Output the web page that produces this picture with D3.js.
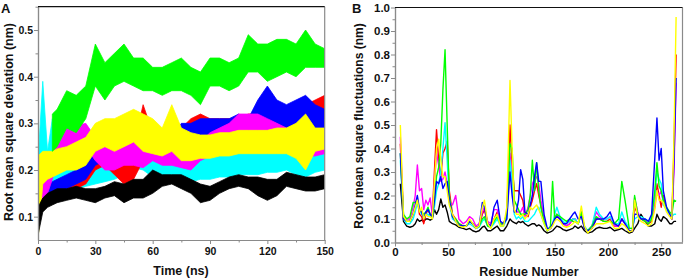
<!DOCTYPE html>
<html>
<head>
<meta charset="utf-8">
<script src="https://cdn.jsdelivr.net/npm/d3@7"></script>
<style>
  body { margin: 0; background: white; }
  svg { display: block; font-family: "Liberation Sans", Arial, sans-serif; }
</style>
</head>
<body>
<svg id="chart" width="685" height="279"></svg>
<script>
// ---- panel A: RMSD bands (low / high edge of each noisy trace) ----
const TIME = [0, 2.5, 5, 7.5, 10, 15, 20, 25, 30, 35, 40, 45, 50, 55, 60, 65, 70, 75, 80, 85, 90, 95, 100, 105, 110, 115, 120, 125, 130, 135, 140, 145, 150];

const cyanLo = [0.12, 0.15, 0.15, 0.155, 0.155, 0.16, 0.16, 0.165, 0.17, 0.175, 0.18, 0.19, 0.205, 0.20, 0.185, 0.175, 0.175, 0.175, 0.175, 0.18, 0.18, 0.185, 0.185, 0.19, 0.19, 0.19, 0.195, 0.195, 0.2, 0.19, 0.185, 0.195, 0.2];
const cyanHi = [0.22, 0.39, 0.24, 0.31, 0.2, 0.2, 0.2, 0.21, 0.215, 0.22, 0.225, 0.25, 0.27, 0.26, 0.24, 0.225, 0.225, 0.225, 0.225, 0.225, 0.23, 0.23, 0.235, 0.24, 0.24, 0.245, 0.245, 0.245, 0.25, 0.25, 0.245, 0.25, 0.255];
const redLo = [0.09, 0.12, 0.13, 0.135, 0.14, 0.15, 0.16, 0.17, 0.20, 0.21, 0.19, 0.17, 0.18, 0.22, 0.23, 0.24, 0.24, 0.25, 0.27, 0.28, 0.28, 0.27, 0.27, 0.27, 0.28, 0.28, 0.29, 0.28, 0.28, 0.29, 0.29, 0.30, 0.31];
const redHi = [0.14, 0.16, 0.165, 0.17, 0.17, 0.18, 0.19, 0.20, 0.26, 0.25, 0.24, 0.22, 0.25, 0.34, 0.28, 0.28, 0.30, 0.29, 0.31, 0.32, 0.31, 0.31, 0.31, 0.31, 0.32, 0.32, 0.33, 0.32, 0.32, 0.33, 0.34, 0.35, 0.36];
const blueLo = [0.10, 0.13, 0.14, 0.145, 0.15, 0.16, 0.17, 0.18, 0.21, 0.22, 0.24, 0.25, 0.25, 0.24, 0.24, 0.23, 0.22, 0.25, 0.26, 0.26, 0.26, 0.26, 0.27, 0.27, 0.27, 0.30, 0.31, 0.30, 0.29, 0.30, 0.30, 0.29, 0.29];
const blueHi = [0.15, 0.17, 0.17, 0.175, 0.18, 0.19, 0.20, 0.21, 0.25, 0.27, 0.30, 0.31, 0.30, 0.29, 0.29, 0.27, 0.27, 0.30, 0.30, 0.31, 0.31, 0.31, 0.31, 0.32, 0.31, 0.35, 0.38, 0.35, 0.34, 0.35, 0.36, 0.34, 0.33];
const magentaLo = [0.11, 0.14, 0.15, 0.18, 0.22, 0.235, 0.24, 0.25, 0.22, 0.20, 0.20, 0.21, 0.21, 0.205, 0.22, 0.21, 0.21, 0.205, 0.20, 0.22, 0.23, 0.24, 0.25, 0.265, 0.27, 0.27, 0.26, 0.25, 0.245, 0.235, 0.23, 0.23, 0.235];
const magentaHi = [0.16, 0.18, 0.19, 0.22, 0.27, 0.29, 0.295, 0.30, 0.27, 0.25, 0.25, 0.26, 0.26, 0.255, 0.27, 0.27, 0.27, 0.255, 0.24, 0.26, 0.28, 0.29, 0.30, 0.32, 0.32, 0.32, 0.31, 0.30, 0.29, 0.28, 0.27, 0.27, 0.28];
const yellowLo = [0.05, 0.17, 0.18, 0.185, 0.19, 0.20, 0.20, 0.21, 0.24, 0.25, 0.24, 0.25, 0.26, 0.24, 0.235, 0.23, 0.24, 0.22, 0.22, 0.225, 0.225, 0.23, 0.23, 0.235, 0.235, 0.235, 0.235, 0.235, 0.235, 0.225, 0.20, 0.24, 0.245];
const yellowHi = [0.23, 0.24, 0.24, 0.24, 0.245, 0.25, 0.26, 0.27, 0.30, 0.31, 0.31, 0.32, 0.33, 0.32, 0.31, 0.29, 0.34, 0.29, 0.28, 0.275, 0.275, 0.28, 0.28, 0.285, 0.285, 0.285, 0.285, 0.29, 0.29, 0.30, 0.32, 0.29, 0.29];
const blackLo = [0.06, 0.11, 0.12, 0.125, 0.13, 0.135, 0.14, 0.135, 0.13, 0.14, 0.145, 0.13, 0.14, 0.14, 0.15, 0.165, 0.17, 0.16, 0.15, 0.13, 0.135, 0.15, 0.16, 0.165, 0.16, 0.145, 0.135, 0.145, 0.165, 0.16, 0.155, 0.155, 0.16];
const blackHi = [0.12, 0.14, 0.15, 0.155, 0.16, 0.16, 0.165, 0.16, 0.16, 0.165, 0.175, 0.17, 0.18, 0.18, 0.20, 0.19, 0.19, 0.19, 0.18, 0.17, 0.165, 0.175, 0.185, 0.19, 0.185, 0.185, 0.18, 0.18, 0.195, 0.19, 0.185, 0.185, 0.19];
const greenLo = [null, null, null, 0.24, 0.25, 0.29, 0.28, 0.31, 0.38, 0.35, 0.38, 0.39, 0.38, 0.37, 0.37, 0.36, 0.37, 0.37, 0.36, 0.34, 0.38, 0.38, 0.37, 0.38, 0.41, 0.41, 0.39, 0.40, 0.41, 0.40, 0.42, 0.42, 0.42];
const greenHi = [null, null, null, 0.32, 0.33, 0.37, 0.36, 0.38, 0.47, 0.43, 0.45, 0.47, 0.44, 0.44, 0.42, 0.42, 0.43, 0.44, 0.42, 0.41, 0.44, 0.44, 0.43, 0.44, 0.49, 0.47, 0.47, 0.48, 0.48, 0.47, 0.50, 0.47, 0.46];

// ---- panel B: RMSF per residue ----
const RESIDUE = [5, 8, 11, 14, 17, 19, 21, 23, 25, 27, 29, 31, 33, 35, 37, 39, 41, 43, 45, 47, 49, 51, 54, 57, 60, 64, 67, 70, 73, 76, 79, 82, 84, 87, 90, 93, 96, 99, 102, 105, 108, 110, 112, 114, 116, 118, 120, 122, 125, 127, 129, 131, 133, 135, 137, 140, 143, 146, 148, 150, 152, 155, 158, 161, 164, 167, 169, 172, 175, 178, 181, 185, 189, 192, 196, 199, 202, 206, 210, 213, 216, 220, 223, 225, 228, 231, 235, 238, 241, 244, 246, 248, 250, 252, 255, 258, 260, 262, 264];

const fBlack = [0.25, 0.09, 0.07, 0.065, 0.07, 0.08, 0.10, 0.09, 0.095, 0.09, 0.10, 0.10, 0.095, 0.10, 0.14, 0.12, 0.14, 0.185, 0.15, 0.16, 0.13, 0.09, 0.08, 0.075, 0.065, 0.06, 0.055, 0.06, 0.05, 0.045, 0.05, 0.065, 0.07, 0.05, 0.05, 0.06, 0.07, 0.05, 0.05, 0.07, 0.10, 0.09, 0.085, 0.08, 0.09, 0.085, 0.09, 0.08, 0.07, 0.075, 0.08, 0.08, 0.07, 0.075, 0.07, 0.05, 0.04, 0.045, 0.05, 0.06, 0.07, 0.065, 0.055, 0.05, 0.055, 0.06, 0.07, 0.06, 0.07, 0.05, 0.04, 0.045, 0.06, 0.065, 0.06, 0.06, 0.065, 0.05, 0.055, 0.06, 0.05, 0.04, 0.045, 0.06, 0.08, 0.12, 0.09, 0.07, 0.07, 0.08, 0.12, 0.10, 0.09, 0.11, 0.10, 0.08, 0.08, 0.09, 0.09];
const fRed = [0.42, 0.10, 0.09, 0.09, 0.12, 0.15, 0.18, 0.12, 0.11, 0.08, 0.12, 0.14, 0.12, 0.11, 0.30, 0.48, 0.35, 0.28, 0.38, 0.40, 0.43, 0.22, 0.12, 0.10, 0.08, 0.07, 0.07, 0.09, 0.08, 0.065, 0.07, 0.12, 0.14, 0.08, 0.07, 0.10, 0.13, 0.08, 0.08, 0.12, 0.50, 0.33, 0.22, 0.22, 0.22, 0.20, 0.18, 0.12, 0.11, 0.15, 0.18, 0.22, 0.25, 0.20, 0.16, 0.09, 0.05, 0.06, 0.08, 0.10, 0.12, 0.10, 0.08, 0.07, 0.08, 0.10, 0.10, 0.08, 0.12, 0.06, 0.05, 0.06, 0.10, 0.10, 0.09, 0.09, 0.10, 0.07, 0.07, 0.10, 0.08, 0.05, 0.05, 0.15, 0.12, 0.10, 0.09, 0.08, 0.09, 0.16, 0.25, 0.20, 0.15, 0.20, 0.14, 0.12, 0.10, 0.40, 0.80];
const fBlue = [0.38, 0.10, 0.09, 0.09, 0.12, 0.16, 0.20, 0.14, 0.13, 0.10, 0.13, 0.14, 0.12, 0.11, 0.18, 0.26, 0.25, 0.28, 0.23, 0.25, 0.26, 0.18, 0.11, 0.09, 0.075, 0.07, 0.07, 0.09, 0.08, 0.06, 0.07, 0.17, 0.15, 0.08, 0.07, 0.15, 0.18, 0.09, 0.08, 0.10, 0.30, 0.20, 0.13, 0.13, 0.18, 0.31, 0.27, 0.13, 0.12, 0.16, 0.20, 0.28, 0.34, 0.26, 0.26, 0.12, 0.06, 0.06, 0.08, 0.10, 0.11, 0.10, 0.08, 0.08, 0.10, 0.12, 0.13, 0.10, 0.11, 0.06, 0.05, 0.06, 0.10, 0.10, 0.10, 0.11, 0.13, 0.08, 0.07, 0.10, 0.08, 0.05, 0.05, 0.12, 0.12, 0.10, 0.10, 0.09, 0.12, 0.36, 0.53, 0.35, 0.40, 0.22, 0.15, 0.12, 0.10, 0.35, 0.70];
const fMagenta = [0.45, 0.11, 0.10, 0.10, 0.15, 0.20, 0.33, 0.22, 0.23, 0.14, 0.18, 0.16, 0.19, 0.12, 0.25, 0.38, 0.33, 0.26, 0.27, 0.30, 0.25, 0.17, 0.16, 0.20, 0.10, 0.08, 0.09, 0.11, 0.10, 0.07, 0.08, 0.13, 0.15, 0.09, 0.08, 0.14, 0.14, 0.08, 0.08, 0.12, 0.38, 0.25, 0.14, 0.13, 0.13, 0.13, 0.15, 0.11, 0.15, 0.20, 0.25, 0.27, 0.28, 0.25, 0.18, 0.10, 0.05, 0.06, 0.08, 0.10, 0.12, 0.10, 0.08, 0.07, 0.08, 0.10, 0.10, 0.08, 0.13, 0.06, 0.05, 0.07, 0.13, 0.11, 0.10, 0.10, 0.11, 0.07, 0.07, 0.10, 0.08, 0.05, 0.05, 0.19, 0.13, 0.10, 0.09, 0.08, 0.10, 0.15, 0.22, 0.20, 0.22, 0.17, 0.14, 0.12, 0.10, 0.30, 0.68];
const fCyan = [0.35, 0.10, 0.08, 0.08, 0.10, 0.13, 0.17, 0.14, 0.12, 0.11, 0.12, 0.12, 0.11, 0.11, 0.15, 0.22, 0.25, 0.30, 0.40, 0.51, 0.35, 0.17, 0.10, 0.09, 0.075, 0.07, 0.07, 0.08, 0.07, 0.06, 0.065, 0.09, 0.10, 0.07, 0.065, 0.08, 0.10, 0.07, 0.07, 0.10, 0.35, 0.25, 0.12, 0.10, 0.11, 0.10, 0.11, 0.09, 0.09, 0.10, 0.11, 0.12, 0.14, 0.15, 0.12, 0.08, 0.05, 0.06, 0.08, 0.12, 0.15, 0.11, 0.09, 0.08, 0.09, 0.10, 0.10, 0.08, 0.12, 0.07, 0.05, 0.07, 0.15, 0.12, 0.10, 0.10, 0.11, 0.08, 0.08, 0.13, 0.09, 0.06, 0.06, 0.10, 0.11, 0.11, 0.10, 0.09, 0.11, 0.20, 0.30, 0.27, 0.25, 0.16, 0.14, 0.12, 0.11, 0.12, 0.12];
const fGreen = [0.38, 0.12, 0.10, 0.11, 0.17, 0.17, 0.18, 0.14, 0.13, 0.12, 0.13, 0.15, 0.12, 0.11, 0.18, 0.28, 0.32, 0.42, 0.65, 0.82, 0.50, 0.20, 0.11, 0.10, 0.08, 0.07, 0.07, 0.09, 0.08, 0.06, 0.07, 0.10, 0.11, 0.07, 0.065, 0.09, 0.11, 0.08, 0.08, 0.12, 0.42, 0.40, 0.18, 0.16, 0.14, 0.12, 0.12, 0.12, 0.14, 0.20, 0.35, 0.22, 0.34, 0.22, 0.15, 0.09, 0.05, 0.07, 0.26, 0.10, 0.12, 0.11, 0.10, 0.09, 0.10, 0.09, 0.09, 0.08, 0.13, 0.06, 0.05, 0.07, 0.11, 0.10, 0.09, 0.09, 0.09, 0.08, 0.10, 0.26, 0.18, 0.06, 0.06, 0.20, 0.12, 0.10, 0.09, 0.08, 0.10, 0.22, 0.34, 0.24, 0.22, 0.18, 0.15, 0.13, 0.12, 0.18, 0.175];
const fYellow = [0.50, 0.11, 0.09, 0.09, 0.12, 0.15, 0.18, 0.13, 0.15, 0.10, 0.12, 0.11, 0.11, 0.10, 0.25, 0.40, 0.44, 0.35, 0.28, 0.28, 0.22, 0.16, 0.12, 0.09, 0.07, 0.065, 0.07, 0.10, 0.08, 0.06, 0.07, 0.15, 0.18, 0.08, 0.06, 0.10, 0.12, 0.07, 0.07, 0.15, 0.69, 0.40, 0.14, 0.12, 0.12, 0.11, 0.12, 0.10, 0.12, 0.15, 0.14, 0.15, 0.16, 0.14, 0.12, 0.08, 0.05, 0.06, 0.07, 0.09, 0.10, 0.09, 0.07, 0.065, 0.07, 0.08, 0.09, 0.08, 0.155, 0.07, 0.04, 0.06, 0.08, 0.08, 0.08, 0.085, 0.09, 0.06, 0.06, 0.08, 0.07, 0.045, 0.05, 0.18, 0.11, 0.09, 0.08, 0.07, 0.08, 0.14, 0.22, 0.18, 0.18, 0.17, 0.13, 0.11, 0.10, 0.45, 0.96];

// draw order matters: later ones sit on top
const bandsA = [
  { color: "#00ffff", lo: cyanLo, hi: cyanHi },
  { color: "#ff0000", lo: redLo, hi: redHi },
  { color: "#0000ff", lo: blueLo, hi: blueHi },
  { color: "#ff00ff", lo: magentaLo, hi: magentaHi },
  { color: "#ffff00", lo: yellowLo, hi: yellowHi },
  { color: "#000000", lo: blackLo, hi: blackHi },
  { color: "#00ff00", lo: greenLo, hi: greenHi }
];
const linesB = [
  { color: "#000000", v: fBlack },
  { color: "#ff0000", v: fRed },
  { color: "#ff00ff", v: fMagenta },
  { color: "#00ffff", v: fCyan },
  { color: "#00ff00", v: fGreen },
  { color: "#0000ff", v: fBlue },
  { color: "#ffff00", v: fYellow }
];

const svg = d3.select("#chart");
const axisGrey = "#8a8a8a";

//draw frame + ticks for one panel
function drawFrame(x, y, opt) {
  const [x0, x1] = x.range();
  const [y0, y1] = y.range();
  const g = svg.append("g");

  // minor ticks
  g.append("g").attr("transform", `translate(0,${y0})`)
    .call(d3.axisBottom(x).tickValues(opt.xMinor).tickSize(2.5).tickSizeOuter(0).tickFormat(""));
  g.append("g").attr("transform", `translate(${x0},0)`)
    .call(d3.axisLeft(y).tickValues(opt.yMinor).tickSize(2.5).tickSizeOuter(0).tickFormat(""));

  // major ticks + labels
  g.append("g").attr("transform", `translate(0,${y0})`)
    .call(d3.axisBottom(x).tickValues(opt.xMajor).tickSize(4).tickPadding(opt.xPad).tickSizeOuter(0))
    .style("font-size", opt.tickFont + "px");
  g.append("g").attr("transform", `translate(${x0},0)`)
    .call(d3.axisLeft(y).tickValues(opt.yMajor).tickSize(4).tickPadding(1).tickSizeOuter(0)
      .tickFormat(d3.format(".1f")))
    .style("font-size", opt.tickFont + "px");

  g.selectAll("text").attr("fill", "#111").style("font-weight", "bold")
    .style("font-family", "'Liberation Sans', Arial, sans-serif");
  g.selectAll("line").attr("stroke", axisGrey);
  g.selectAll("path.domain").attr("stroke", axisGrey).attr("stroke-width", 1.2);

  // right and top border
  svg.append("line").attr("x1", x1).attr("x2", x1).attr("y1", y1).attr("y2", y0)
    .attr("stroke", axisGrey).attr("stroke-width", 1.2);
  svg.append("line").attr("x1", x0).attr("x2", x1).attr("y1", y1).attr("y2", y1)
    .attr("stroke", "#111").attr("stroke-width", 1.2);
}

function addText(txt, x, y, size, rotate) {
  const t = svg.append("text")
    .attr("text-anchor", "middle")
    .style("font-size", size + "px")
    .style("font-weight", "bold")
    .attr("fill", "#111")
    .text(txt);
  if (rotate) t.attr("transform", `translate(${x},${y}) rotate(-90)`);
  else t.attr("x", x).attr("y", y);
  return t;
}

// ---------- panel A ----------
const xA = d3.scaleLinear().domain([0, 150]).range([38, 324.7]);
const yA = d3.scaleLinear().domain([0.05, 0.55]).range([240, 6.7]);

svg.append("clipPath").attr("id", "clipA").append("rect")
  .attr("x", 38).attr("y", 6.7).attr("width", 324.7 - 38).attr("height", 240 - 6.7);

const areaA = d3.area()
  .defined(d => d.lo != null)
  .x(d => xA(d.t))
  .y0(d => yA(d.lo))
  .y1(d => yA(d.hi));

const gA = svg.append("g").attr("clip-path", "url(#clipA)");
bandsA.forEach(b => {
  const pts = TIME.map((t, i) => ({ t, lo: b.lo[i], hi: b.hi[i] }));
  gA.append("path").datum(pts)
    .attr("d", areaA)
    .attr("fill", b.color)
    .attr("stroke", b.color)
    .attr("stroke-width", 0.8);
});

drawFrame(xA, yA, {
  xMajor: d3.range(0, 151, 30), xMinor: d3.range(15, 150, 30),
  yMajor: [0.1, 0.2, 0.3, 0.4, 0.5], yMinor: [0.15, 0.25, 0.35, 0.45, 0.55],
  tickFont: 10.5, xPad: 3.5
});

addText("Time (ns)", 181, 275, 12.5);
addText("Root mean square deviation (nm)", 12.5, 122, 12.5, true);
svg.append("text").attr("x", 1).attr("y", 12.5).style("font-size", "13px")
  .style("font-weight", "bold").attr("fill", "#111").text("A");

// ---------- panel B ----------
const xB = d3.scaleLinear().domain([0, 270]).range([395, 682.5]);
const yB = d3.scaleLinear().domain([0, 1]).range([242.5, 7.5]);

const lineB = d3.line().x((d, i) => xB(RESIDUE[i])).y(d => yB(d));
linesB.forEach(s => {
  svg.append("path").datum(s.v)
    .attr("d", lineB)
    .attr("fill", "none")
    .attr("stroke", s.color)
    .attr("stroke-width", 1.4)
    .attr("stroke-linejoin", "round");
});

drawFrame(xB, yB, {
  xMajor: d3.range(0, 251, 50), xMinor: d3.range(25, 270, 50),
  yMajor: d3.range(0, 1.01, 0.1), yMinor: d3.range(0.05, 1, 0.1),
  tickFont: 11.5, xPad: 1.5
});

addText("Residue Number", 529, 276, 12.5);
addText("Root mean square fluctuations (nm)", 363, 126, 12, true);
svg.append("text").attr("x", 352).attr("y", 12.5).style("font-size", "13px")
  .style("font-weight", "bold").attr("fill", "#111").text("B");
</script>
</body>
</html>
